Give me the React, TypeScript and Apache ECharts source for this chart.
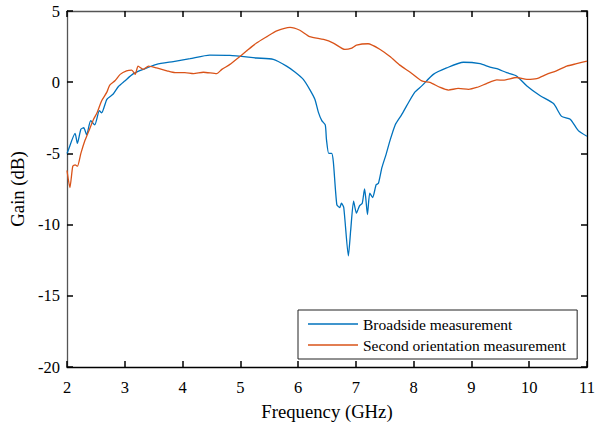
import React, { useEffect, useRef } from "react";
import * as echarts from "echarts";

const xTicks = [2, 3, 4, 5, 6, 7, 8, 9, 10, 11];
const yTicks = [-20, -15, -10, -5, 0, 5];

const broadsideFreq = [2.0, 2.02, 2.14, 2.18, 2.24, 2.29, 2.34, 2.41, 2.48, 2.56, 2.6, 2.69, 2.8, 2.89, 3.0, 3.15, 3.32, 3.55, 3.84, 4.13, 4.47, 4.82, 5.28, 5.57, 5.8, 5.95, 6.09, 6.2, 6.29, 6.35, 6.41, 6.47, 6.49, 6.53, 6.58, 6.61, 6.67, 6.72, 6.75, 6.79, 6.87, 6.91, 6.96, 7.01, 7.06, 7.11, 7.15, 7.17, 7.2, 7.24, 7.29, 7.35, 7.39, 7.45, 7.52, 7.59, 7.68, 7.79, 7.88, 8.02, 8.14, 8.34, 8.57, 8.86, 9.15, 9.32, 9.44, 9.61, 9.78, 9.96, 10.19, 10.42, 10.56, 10.71, 10.85, 11.0];
const broadsideGain = [-5.0, -4.8, -3.6, -4.3, -3.3, -3.2, -3.7, -2.7, -3.0, -2.0, -2.15, -1.2, -0.83, -0.3, 0.09, 0.6, 0.9, 1.25, 1.45, 1.65, 1.9, 1.88, 1.7, 1.6, 1.13, 0.7, 0.2, -0.5, -1.2, -2.1, -2.7, -3.0, -4.0, -5.0, -5.0, -5.6, -8.6, -8.8, -8.5, -8.8, -12.2, -10.4, -8.35, -9.2, -8.7, -8.5, -7.5, -8.1, -9.3, -7.8, -8.1, -7.2, -7.1, -6.0, -5.1, -4.1, -3.0, -2.3, -1.65, -0.7, -0.26, 0.55, 1.0, 1.4, 1.3, 1.06, 0.95, 0.67, 0.44, -0.26, -0.95, -1.5, -2.4, -2.6, -3.4, -3.8];

const secondFreq = [2.0, 2.05, 2.1, 2.14, 2.18, 2.24, 2.31, 2.37, 2.46, 2.52, 2.6, 2.69, 2.74, 2.83, 2.92, 3.03, 3.12, 3.18, 3.23, 3.32, 3.41, 3.55, 3.73, 3.87, 4.04, 4.19, 4.36, 4.59, 4.68, 4.82, 4.96, 5.11, 5.28, 5.46, 5.63, 5.86, 6.03, 6.2, 6.44, 6.61, 6.81, 6.93, 7.01, 7.21, 7.42, 7.59, 7.76, 7.94, 8.14, 8.28, 8.46, 8.6, 8.77, 8.95, 9.09, 9.26, 9.44, 9.55, 9.78, 9.96, 10.13, 10.3, 10.47, 10.65, 10.82, 11.0];
const secondGain = [-6.2, -7.4, -5.9, -5.8, -5.9, -5.0, -4.1, -3.5, -2.6, -2.15, -1.3, -0.7, -0.2, 0.1, 0.55, 0.8, 0.85, 0.55, 1.13, 0.9, 1.13, 1.0, 0.8, 0.67, 0.67, 0.6, 0.7, 0.6, 0.9, 1.25, 1.7, 2.2, 2.75, 3.2, 3.6, 3.85, 3.65, 3.2, 3.0, 2.75, 2.3, 2.4, 2.6, 2.7, 2.3, 1.8, 1.2, 0.7, 0.09, -0.02, -0.37, -0.55, -0.44, -0.5, -0.37, -0.1, 0.16, 0.14, 0.33, 0.2, 0.25, 0.55, 0.8, 1.13, 1.3, 1.48];

const seriesNames = ["Broadside measurement", "Second orientation measurement"];
const seriesColors = ["#0072BD", "#D95319"];

const FONT = "Liberation Serif";

export default function App() {
  const ref = useRef<HTMLDivElement>(null);
  useEffect(() => {
    if (!ref.current) return;
    const chart = echarts.init(ref.current, undefined, { renderer: "svg" });
    const pairs = (xs: number[], ys: number[]) => xs.map((x, i) => [x, ys[i]]);
    const tick = () => ({
      show: true,
      inside: true,
      length: 6,
      interval: 0,
      lineStyle: { color: "#000", width: 1.5, opacity: 1 },
    });
    chart.setOption({
      animation: false,
      textStyle: { fontFamily: FONT },
      grid: { left: 67, right: 13, top: 11, bottom: 55, containLabel: false },
      xAxis: [
        {
          type: "value",
          min: xTicks[0],
          max: xTicks[xTicks.length - 1],
          interval: 1,
          name: "Frequency (GHz)",
          nameLocation: "middle",
          nameGap: 35,
          nameTextStyle: { fontFamily: FONT, fontSize: 18.7, color: "#000" },
          axisLine: { show: true, onZero: false, lineStyle: { color: "#000", width: 1.3 } },
          axisTick: tick(),
          axisLabel: { fontFamily: FONT, fontSize: 16.5, color: "#000", margin: 12 },
          splitLine: { show: false },
        },
        {
          type: "value",
          position: "top",
          min: xTicks[0],
          max: xTicks[xTicks.length - 1],
          interval: 1,
          axisLine: { show: true, onZero: false, lineStyle: { color: "#555", width: 1.3 } },
          axisTick: tick(),
          axisLabel: { show: false },
          splitLine: { show: false },
        },
      ],
      yAxis: [
        {
          type: "value",
          min: yTicks[0],
          max: yTicks[yTicks.length - 1],
          interval: 5,
          name: "Gain (dB)",
          nameLocation: "middle",
          nameGap: 37,
          nameTextStyle: { fontFamily: FONT, fontSize: 18.7, color: "#000" },
          axisLine: { show: true, onZero: false, lineStyle: { color: "#555", width: 1.3 } },
          axisTick: tick(),
          axisLabel: { fontFamily: FONT, fontSize: 16.5, color: "#000", margin: 7 },
          splitLine: { show: false },
        },
        {
          type: "value",
          position: "right",
          min: yTicks[0],
          max: yTicks[yTicks.length - 1],
          interval: 5,
          axisLine: { show: true, onZero: false, lineStyle: { color: "#000", width: 1.3 } },
          axisTick: tick(),
          axisLabel: { show: false },
          splitLine: { show: false },
        },
      ],
      legend: {
        left: 298,
        top: 310,
        orient: "vertical",
        data: seriesNames.map((n, i) => ({ name: n, icon: "rect", itemStyle: { color: seriesColors[i] } })),
        borderColor: "#222",
        borderWidth: 1,
        borderRadius: 0,
        backgroundColor: "#fff",
        padding: [6, 11, 6, 10],
        itemWidth: 50,
        itemHeight: 1.3,
        itemGap: 5,
        textStyle: { fontFamily: FONT, fontSize: 15.5, color: "#000", lineHeight: 15 },
      },
      series: [
        {
          name: seriesNames[0],
          type: "line",
          data: pairs(broadsideFreq, broadsideGain),
          showSymbol: false,
          symbol: "none",
          smooth: 0.2,
          lineStyle: { color: seriesColors[0], width: 1.3 },
          itemStyle: { color: seriesColors[0] },
        },
        {
          name: seriesNames[1],
          type: "line",
          data: pairs(secondFreq, secondGain),
          showSymbol: false,
          symbol: "none",
          smooth: 0.2,
          lineStyle: { color: seriesColors[1], width: 1.3 },
          itemStyle: { color: seriesColors[1] },
        },
      ],
    });
    return () => chart.dispose();
  }, []);
  return (
    <div
      ref={ref}
      style={{ position: "fixed", left: 0, top: 0, width: 600, height: 426, background: "#fff" }}
    />
  );
}
